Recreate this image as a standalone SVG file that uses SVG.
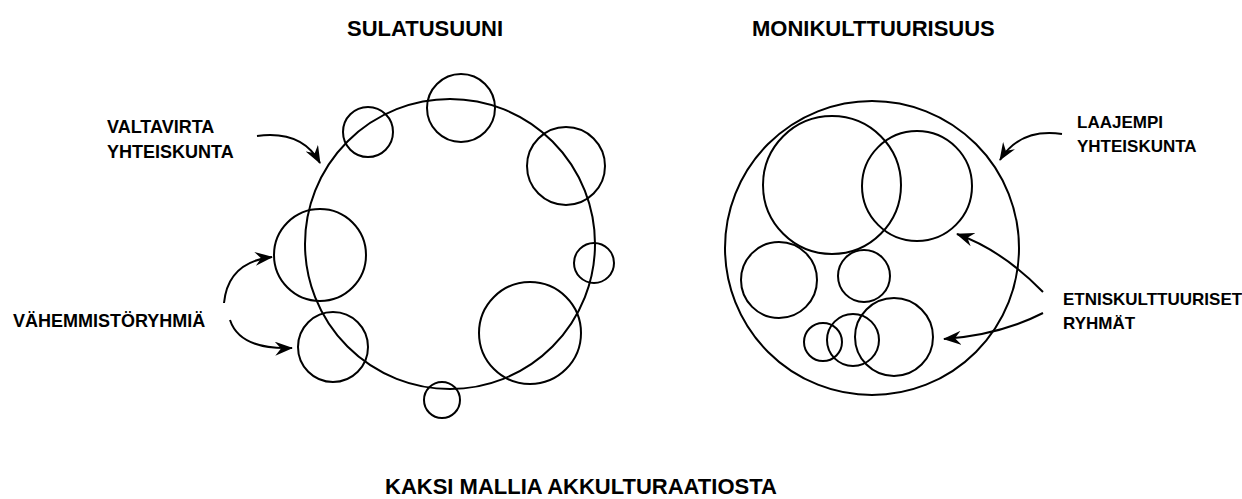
<svg xmlns="http://www.w3.org/2000/svg" width="1242" height="499" viewBox="0 0 1242 499">
<style>
  .c { fill: none; stroke: #000; stroke-width: 2; }
  .a { fill: none; stroke: #000; stroke-width: 2; marker-end: url(#ah); }
  .t { font-family: "Liberation Sans", Arial, sans-serif; font-weight: bold; fill: #000; }
  .title { font-size: 22px; }
  .lab { font-size: 18px; }
  .labr { font-size: 17px; }
</style>
<defs>
  <marker id="ah" viewBox="0 0 18 14" refX="17" refY="7" markerWidth="18" markerHeight="14" markerUnits="userSpaceOnUse" orient="auto">
    <path d="M0,0 L18,7 L0,14 L6,7 Z" fill="#000"/>
  </marker>
</defs>
<rect width="1242" height="499" fill="#fff"/>

<g id="title-sulatusuuni"><text class="t title" x="347" y="36">SULATUSUUNI</text></g>
<g id="title-monikulttuurisuus"><text class="t title" x="752" y="36">MONIKULTTUURISUUS</text></g>
<g id="caption"><text class="t title" x="385" y="494">KAKSI MALLIA AKKULTURAATIOSTA</text></g>

<g id="melting-pot">
  <g id="mp-main"><circle class="c" cx="450" cy="244" r="145"/></g>
  <g id="mp-g1"><circle class="c" cx="368" cy="132" r="25"/></g>
  <g id="mp-g2"><circle class="c" cx="461" cy="108" r="34"/></g>
  <g id="mp-g3"><circle class="c" cx="566" cy="166" r="39"/></g>
  <g id="mp-g4"><circle class="c" cx="594" cy="263" r="20"/></g>
  <g id="mp-g5"><circle class="c" cx="530" cy="333" r="51"/></g>
  <g id="mp-g6"><circle class="c" cx="442" cy="400" r="18"/></g>
  <g id="mp-g7"><circle class="c" cx="320" cy="255" r="46"/></g>
  <g id="mp-g8"><circle class="c" cx="333" cy="347" r="35"/></g>
</g>

<g id="multiculturalism">
  <g id="mc-main"><circle class="c" cx="872" cy="248" r="147"/></g>
  <g id="mc-g1"><circle class="c" cx="832" cy="185" r="69"/></g>
  <g id="mc-g2"><circle class="c" cx="917" cy="186" r="55"/></g>
  <g id="mc-g3"><circle class="c" cx="779" cy="280" r="38"/></g>
  <g id="mc-g4"><circle class="c" cx="864" cy="276" r="26"/></g>
  <g id="mc-g5"><circle class="c" cx="894" cy="337" r="39"/></g>
  <g id="mc-g6"><circle class="c" cx="853" cy="340" r="26"/></g>
  <g id="mc-g7"><circle class="c" cx="823" cy="342" r="19"/></g>
</g>

<g id="label-valtavirta">
  <text class="t lab" x="107" y="133">VALTAVIRTA</text>
  <text class="t lab" x="107" y="158">YHTEISKUNTA</text>
</g>
<g id="label-vahemmisto">
  <text class="t lab" x="13" y="327">VÄHEMMISTÖRYHMIÄ</text>
</g>
<g id="label-laajempi">
  <text class="t labr" x="1077" y="128">LAAJEMPI</text>
  <text class="t labr" x="1077" y="152">YHTEISKUNTA</text>
</g>
<g id="label-etnis">
  <text class="t labr" x="1063" y="305">ETNISKULTTUURISET</text>
  <text class="t labr" x="1063" y="329">RYHMÄT</text>
</g>

<g id="connectors">
  <path class="a" d="M257,136 Q302,130 320,163"/>
  <path class="a" d="M224,303 Q228,262 272,257"/>
  <path class="a" d="M230,320 Q240,350 292,348"/>
  <path class="a" d="M1062,134 Q1020,128 1000,160"/>
  <path class="a" d="M1043,292 Q1002,250 957,234"/>
  <path class="a" d="M1043,313 Q1000,335 944,339"/>
</g>
</svg>
